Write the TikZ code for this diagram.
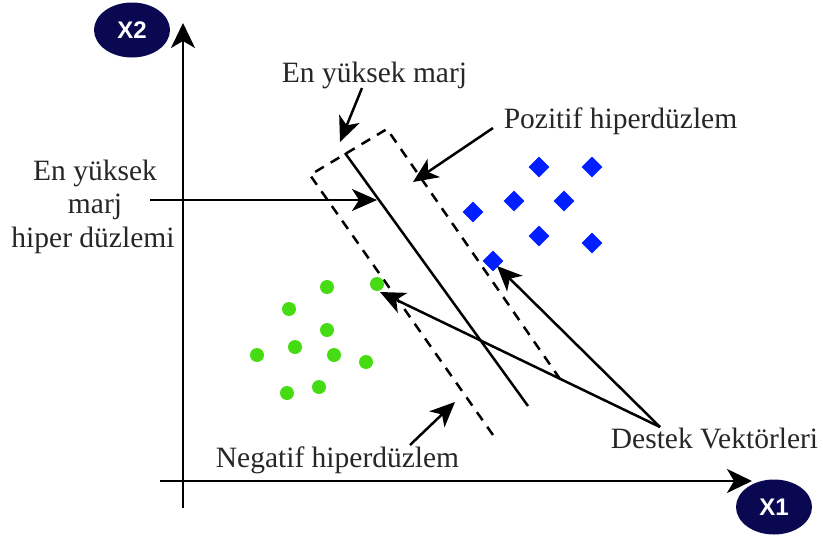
\documentclass[tikz,border=0pt]{standalone}
\usepackage{fontspec}
\setmainfont{Liberation Serif}
\newfontfamily\labfont{Liberation Sans}
\usetikzlibrary{arrows.meta,shapes.geometric}
\definecolor{navy}{RGB}{10,8,80}
\definecolor{ptgreen}{RGB}{70,220,20}
\definecolor{ptblue}{RGB}{0,30,255}
\begin{document}
\begin{tikzpicture}[x=1pt,y=-1pt,
 lbl/.style={font=\fontsize{29.5}{34}\selectfont, inner sep=0pt, anchor=base, text=black!85},
 ax/.style={line width=2.7pt,-{Stealth[length=25pt,width=24pt,inset=7pt]}},
 arr/.style={line width=2.5pt,-{Stealth[length=25pt,width=22pt,inset=7pt]}},
 axlab/.style={ellipse, fill=navy, minimum width=76pt, minimum height=55pt, text=white, font=\labfont\bfseries\fontsize{24}{24}\selectfont, inner sep=0pt},
 gdot/.style={circle, fill=ptgreen, minimum size=14pt, inner sep=0pt},
 bdia/.style={diamond, fill=ptblue, minimum size=21pt, inner sep=0pt},
 margin/.style={dash pattern=on 10pt off 8pt, line width=2.5pt},
 hyper/.style={line width=2.5pt}]
\useasboundingbox (0,0) rectangle (823,536);
% axes
\coordinate (yb) at (183,508); \coordinate (yt) at (183,23);
\coordinate (xl) at (160,481); \coordinate (xr) at (752,481);
\draw[ax] (yb) -- (yt);
\draw[ax] (xl) -- (xr);
\node[axlab] (x2) at (132,30) {X2};
\node[axlab] (x1) at (774,507) {X1};
% margin
\coordinate (bl) at (493,435); \coordinate (tl) at (310,175);
\coordinate (tr) at (387,129); \coordinate (br) at (560,379);
\draw[margin] (bl) -- (tl) -- (tr) -- (br);
\coordinate (h1) at (345,153); \coordinate (h2) at (528,406);
\draw[hyper] (h1) -- (h2);
% points
\node[gdot] (g1) at (327,287) {};
\node[gdot] (g2) at (377,284) {};
\node[gdot] (g3) at (289,309) {};
\node[gdot] (g4) at (327,330) {};
\node[gdot] (g5) at (295,347) {};
\node[gdot] (g6) at (257,355) {};
\node[gdot] (g7) at (334,355) {};
\node[gdot] (g8) at (366,362) {};
\node[gdot] (g9) at (287,393) {};
\node[gdot] (g10) at (319,387) {};
\node[bdia] (b1) at (539,167) {};
\node[bdia] (b2) at (592,167) {};
\node[bdia] (b3) at (514,201) {};
\node[bdia] (b4) at (564,201) {};
\node[bdia] (b5) at (473,212) {};
\node[bdia] (b6) at (539,236) {};
\node[bdia] (b7) at (592,243) {};
\node[bdia] (b8) at (493,261) {};
% labels
\node[lbl] (tmarj) at (374.5,82) {En yüksek marj};
\node[lbl] (tpoz) at (620.5,128) {Pozitif hiperdüzlem};
\node[lbl] (tneg) at (337.5,467) {Negatif hiperdüzlem};
\node[lbl] (tdes) at (714.5,448) {Destek Vektörleri};
\node[lbl] (th1) at (95,180) {En yüksek};
\node[lbl] (th2) at (95,213) {marj};
\node[lbl] (th3) at (93,247) {hiper düzlemi};
% arrows
\coordinate (m1) at (362,88); \coordinate (m2) at (340,142);
\draw[arr] (m1) -- (m2);
\coordinate (p1) at (493,128); \coordinate (p2) at (413,182);
\draw[arr] (p1) -- (p2);
\coordinate (k1) at (150,200); \coordinate (k2) at (377,200);
\draw[arr] (k1) -- (k2);
\coordinate (d0) at (660,427); \coordinate (d1) at (380,292); \coordinate (d2) at (497,266);
\draw[arr] (d0) -- (d1);
\draw[arr] (d0) -- (d2);
\coordinate (n1) at (410,445); \coordinate (n2) at (455,402);
\draw[arr] (n1) -- (n2);
\end{tikzpicture}
\end{document}
